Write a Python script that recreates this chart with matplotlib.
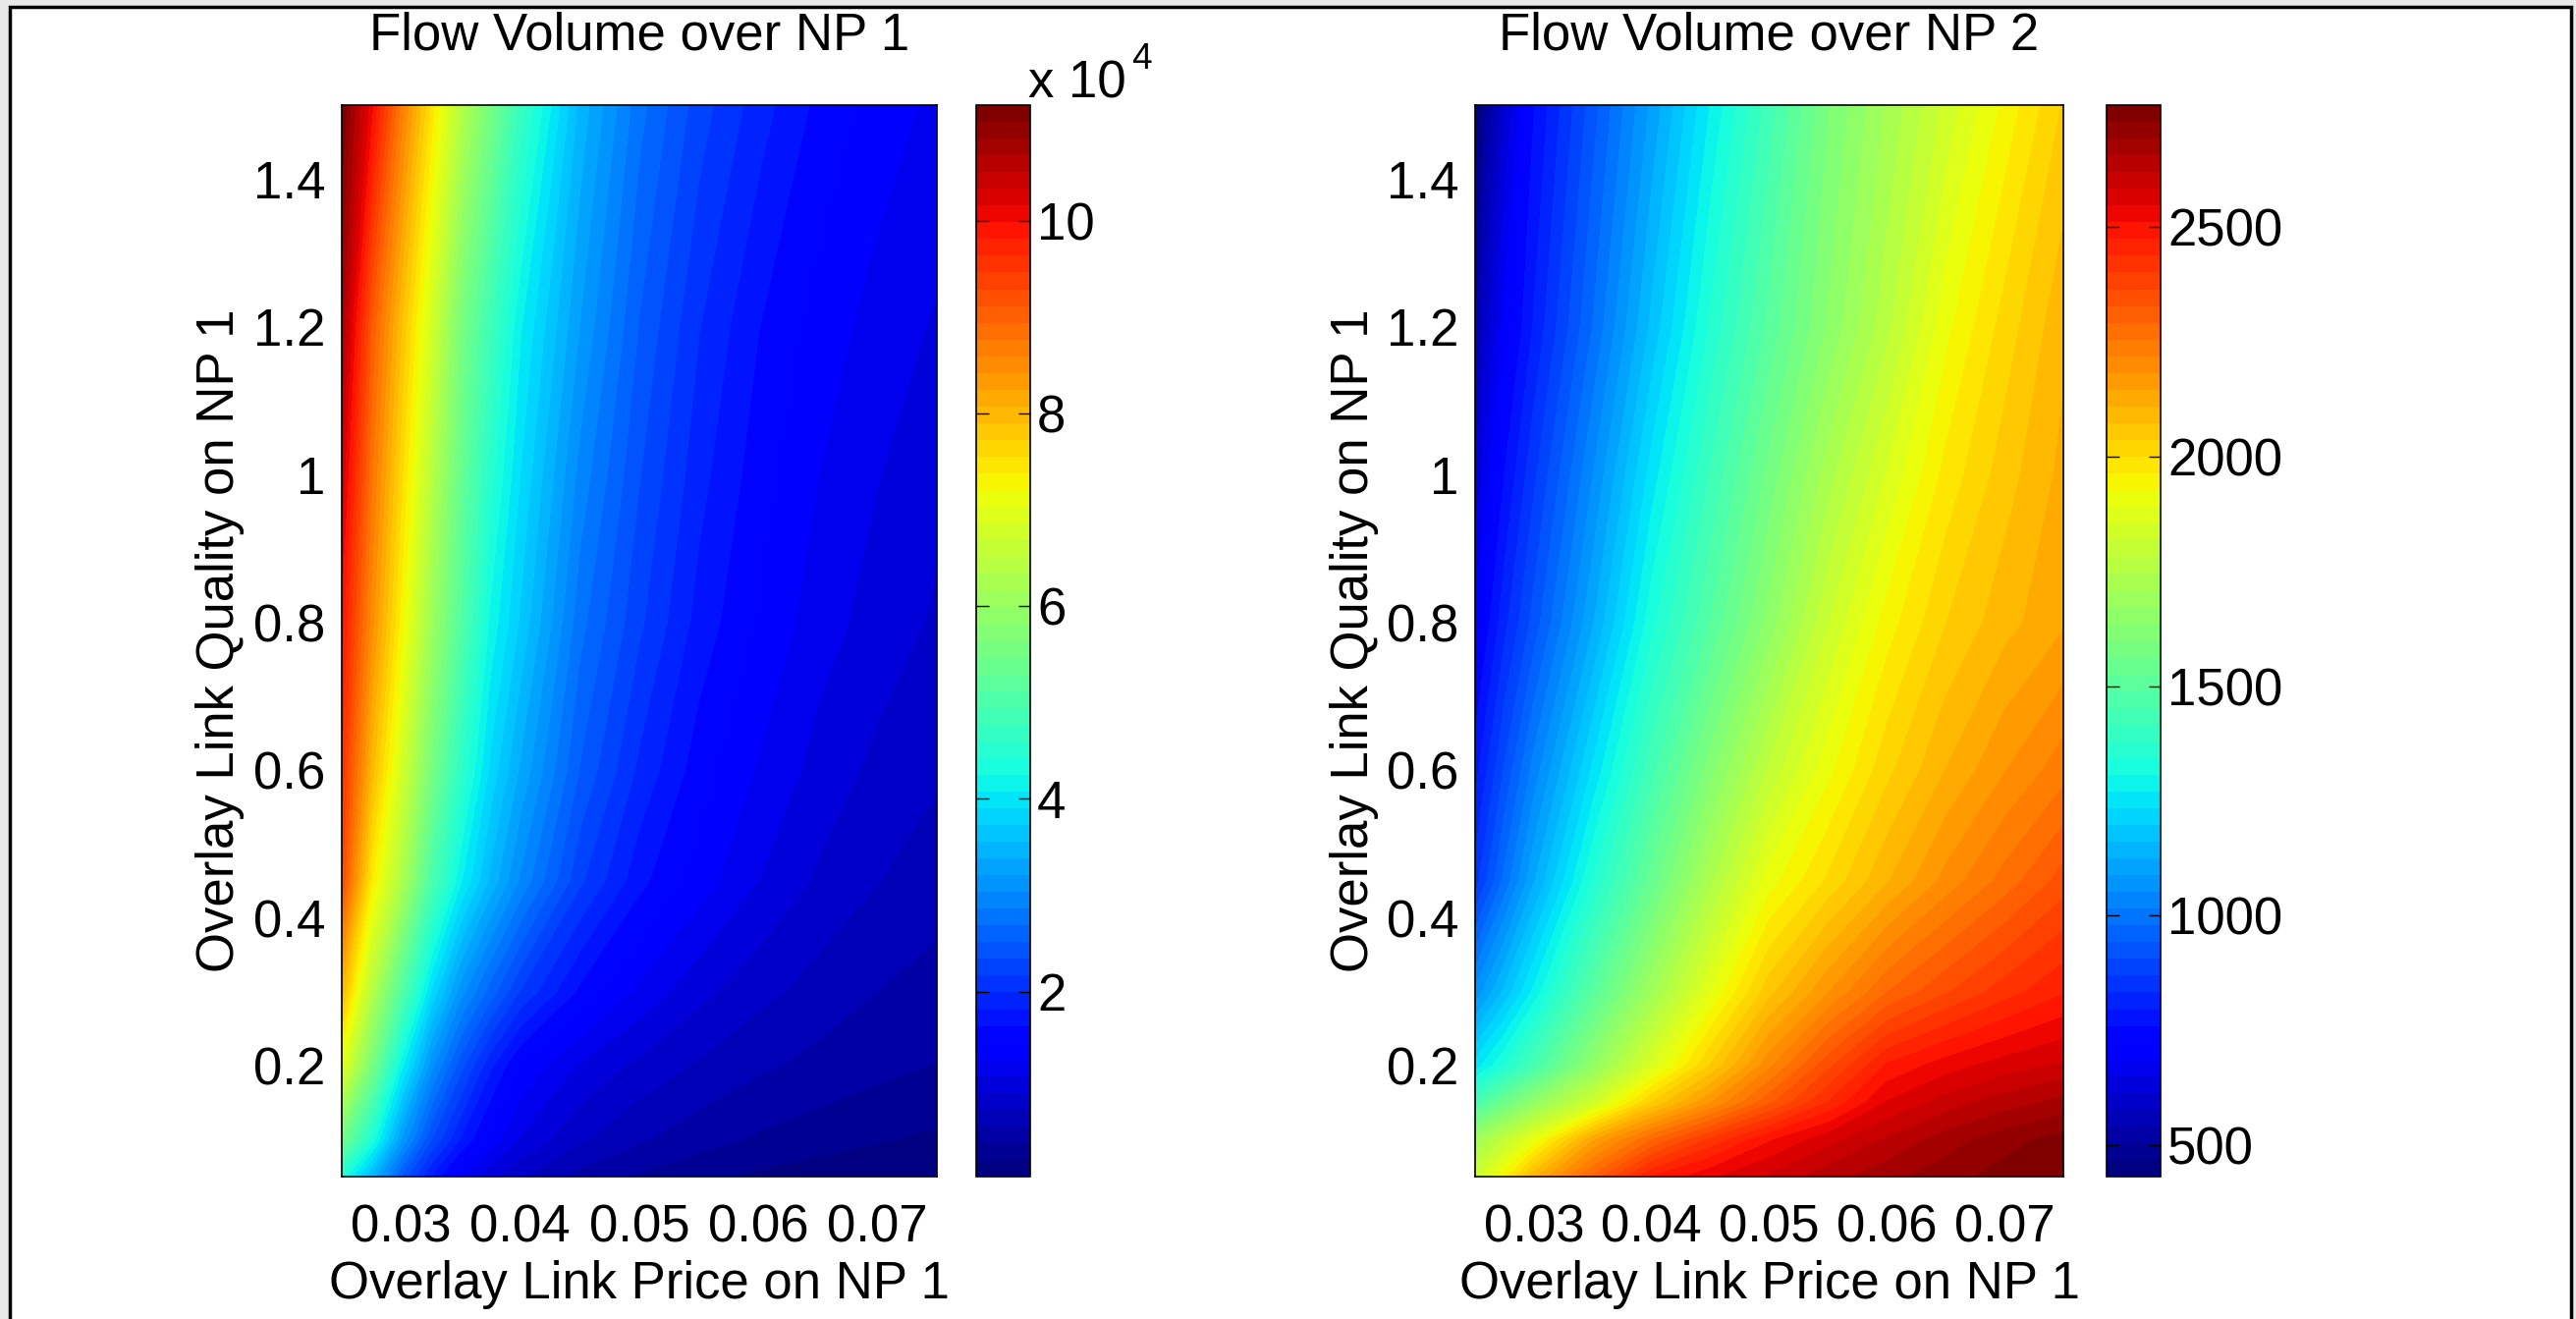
import numpy as np
import matplotlib
matplotlib.use("Agg")
import matplotlib.pyplot as plt
from matplotlib.patches import Rectangle

plt.rcParams['font.family'] = ['Liberation Sans', 'DejaVu Sans']

# Overlay link price on NP 1 (x) and overlay link quality on NP 1 (y)
price_np1_a = [0.025, 0.0275, 0.03, 0.0325, 0.035, 0.0375, 0.04,
               0.045, 0.05, 0.055, 0.06, 0.065, 0.07, 0.075]
quality_np1_a = [0.05, 0.1, 0.2, 0.3, 0.45, 0.6, 0.8, 1.0, 1.2, 1.5]

# Flow volume over NP 1, in units of 10^4 (rows follow quality_np1_a)
flow_np1_e4 = [
    [4.4, 3.5, 2.5, 1.8, 1.3, 1.0, 0.8, 0.55, 0.4, 0.3, 0.22, 0.16, 0.11, 0.08],
    [5.5, 4.4, 3.2, 2.35, 1.8, 1.4, 1.1, 0.8, 0.62, 0.5, 0.4, 0.33, 0.27, 0.22],
    [7.0, 5.6, 4.15, 3.1, 2.4, 1.85, 1.45, 1.1, 0.9, 0.75, 0.63, 0.55, 0.48, 0.42],
    [8.0, 6.4, 5.1, 3.9, 3.1, 2.6, 2.15, 1.6, 1.25, 1.0, 0.83, 0.7, 0.6, 0.53],
    [9.3, 7.4, 6.3, 5.0, 4.1, 3.5, 3.0, 2.2, 1.7, 1.38, 1.12, 0.92, 0.78, 0.68],
    [9.6, 8.0, 6.8, 5.6, 4.6, 3.85, 3.35, 2.5, 1.95, 1.55, 1.28, 1.06, 0.9, 0.8],
    [9.9, 8.5, 7.3, 6.1, 5.1, 4.2, 3.7, 2.75, 2.2, 1.75, 1.45, 1.2, 1.05, 0.92],
    [10.3, 8.8, 7.6, 6.45, 5.35, 4.5, 3.9, 2.97, 2.35, 1.88, 1.55, 1.3, 1.13, 1.0],
    [10.7, 9.1, 7.9, 6.8, 5.6, 4.8, 4.1, 3.2, 2.5, 2.0, 1.65, 1.4, 1.22, 1.1],
    [11.2, 10.05, 8.7, 7.5, 6.4, 5.55, 4.7, 3.5, 2.75, 2.25, 1.9, 1.6, 1.4, 1.25],
]

price_np1_b = [0.025, 0.0275, 0.03, 0.035, 0.04, 0.045, 0.05,
               0.055, 0.06, 0.065, 0.07, 0.075]
quality_np1_b = [0.05, 0.1, 0.15, 0.2, 0.3, 0.45, 0.6, 0.8, 1.0, 1.2, 1.5]

# Flow volume over NP 2 (rows follow quality_np1_b)
flow_np2 = [
    [1820, 1950, 2100, 2300, 2474, 2540, 2590, 2640, 2680, 2715, 2745, 2766],
    [1700, 1790, 1900, 2140, 2290, 2410, 2505, 2570, 2625, 2675, 2715, 2745],
    [1450, 1560, 1660, 1830, 2040, 2180, 2320, 2440, 2550, 2600, 2640, 2670],
    [1250, 1345, 1450, 1660, 1860, 2040, 2210, 2355, 2480, 2530, 2565, 2590],
    [1060, 1170, 1280, 1500, 1700, 1890, 2060, 2180, 2290, 2360, 2420, 2470],
    [850, 990, 1120, 1345, 1540, 1735, 1910, 2007, 2105, 2195, 2270, 2345],
    [780, 910, 1030, 1240, 1440, 1620, 1790, 1915, 2025, 2110, 2180, 2240],
    [700, 820, 920, 1120, 1330, 1490, 1650, 1815, 1944, 2035, 2095, 2140],
    [620, 760, 860, 1050, 1250, 1420, 1575, 1728, 1857, 1975, 2055, 2120],
    [540, 700, 800, 980, 1170, 1350, 1500, 1640, 1770, 1915, 2015, 2100],
    [431, 613, 757, 925, 1096, 1272, 1435, 1595, 1712, 1828, 1937, 2040],
]

x_ticks = [0.03, 0.04, 0.05, 0.06, 0.07]
x_ticklabels = ["0.03", "0.04", "0.05", "0.06", "0.07"]
y_ticks = [0.2, 0.4, 0.6, 0.8, 1.0, 1.2, 1.4]
y_ticklabels = ["0.2", "0.4", "0.6", "0.8", "1", "1.2", "1.4"]
cbar1_ticks = [2e4, 4e4, 6e4, 8e4, 10e4]
cbar1_ticklabels = ["2", "4", "6", "8", "10"]
cbar2_ticks = [500, 1000, 1500, 2000, 2500]
cbar2_ticklabels = ["500", "1000", "1500", "2000", "2500"]

titles = ["Flow Volume over NP 1", "Flow Volume over NP 2"]
x_label = "Overlay Link Price on NP 1"
y_label = "Overlay Link Quality on NP 1"

FS = 38
W, H = 2623, 1343

fig = plt.figure(figsize=(W / 100, H / 100), dpi=100, facecolor="#e9e9e9")

# white framed canvas
frame = Rectangle((10 / W, -0.1), (2618 - 10) / W, 1.1 - 7 / H,
                  transform=fig.transFigure, facecolor="white",
                  edgecolor="black", linewidth=2.5, zorder=-10)
fig.add_artist(frame)


def fpos(x0, x1, y0, y1):
    return [x0 / W, 1 - y1 / H, (x1 - x0) / W, (y1 - y0) / H]


ax1 = fig.add_axes(fpos(348, 954, 107, 1198))
cax1 = fig.add_axes(fpos(994, 1049, 107, 1198))
ax2 = fig.add_axes(fpos(1502, 2101, 107, 1198))
cax2 = fig.add_axes(fpos(2145, 2200, 107, 1198))

jet64 = plt.get_cmap("jet", 64)


def panel(ax, cax, xs, ys, z, title, cticks, cticklabels):
    z = np.asarray(z, dtype=float)
    levels = np.linspace(z.min(), z.max(), 65)
    cs = ax.contourf(xs, ys, z, levels=levels, cmap=jet64, antialiased=False)
    ax.set_xlim(min(xs), max(xs))
    ax.set_ylim(min(ys), max(ys))
    ax.set_xticks(x_ticks)
    ax.set_xticklabels(x_ticklabels)
    ax.set_yticks(y_ticks)
    ax.set_yticklabels(y_ticklabels)
    ax.tick_params(length=0, labelsize=FS)
    ax.tick_params(axis="y", pad=12)
    ax.tick_params(axis="x", pad=20)
    for s in ax.spines.values():
        s.set_linewidth(1.2)
    ax.set_title(title, fontsize=FS, pad=41)
    ax.set_xlabel(x_label, fontsize=FS, labelpad=5)
    ax.set_ylabel(y_label, fontsize=FS, labelpad=6)

    cb = fig.colorbar(cs, cax=cax)
    cb.set_ticks(cticks)
    cb.set_ticklabels(cticklabels)
    cb.outline.set_linewidth(1.2)
    cax.tick_params(direction="in", length=9, width=1.0, left=True,
                    right=True, labelleft=False, labelright=True,
                    labelsize=FS, pad=5)
    cax.minorticks_off()
    return cb


panel(ax1, cax1, price_np1_a, quality_np1_a, np.asarray(flow_np1_e4) * 1e4,
      titles[0], cbar1_ticks, cbar1_ticklabels)
panel(ax2, cax2, price_np1_b, quality_np1_b, flow_np2,
      titles[1], cbar2_ticks, cbar2_ticklabels)

# exponent marker above the first colour bar
fig.text(1047 / W, 1 - 99 / H, "x 10", fontsize=FS, ha="left", va="baseline")
fig.text(1152 / W, 1 - 70 / H, "4", fontsize=FS * 0.7, ha="left", va="baseline")

fig.savefig("out.png", dpi=100, facecolor=fig.get_facecolor())
